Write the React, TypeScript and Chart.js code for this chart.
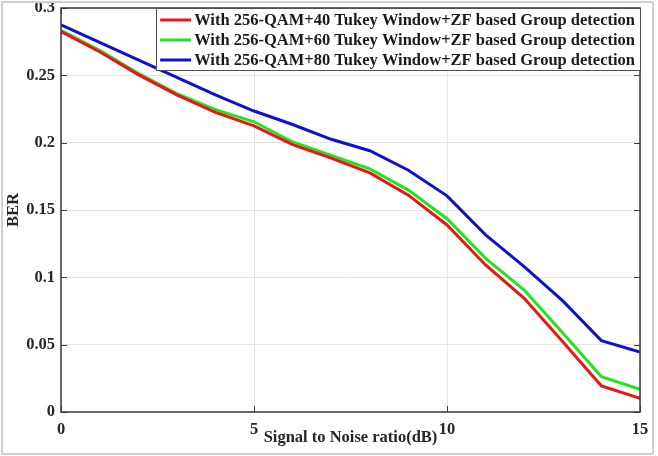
import React, { useEffect, useRef } from "react";
import { Chart, registerables } from "chart.js";

Chart.register(...registerables);

// SNR sweep (dB)
const snrDb = [0, 1, 2, 3, 4, 5, 6, 7, 8, 9, 10, 11, 12, 13, 14, 15];

// Bit error rate for each Tukey window length
const ber40 = [0.2825, 0.2675, 0.2505, 0.2355, 0.2225, 0.2125, 0.1985, 0.1885, 0.1775, 0.161, 0.1389, 0.1092, 0.0844, 0.0522, 0.0193, 0.0101];
const ber60 = [0.2835, 0.2685, 0.2515, 0.2365, 0.2245, 0.2155, 0.2005, 0.1905, 0.1805, 0.1648, 0.1435, 0.1141, 0.0906, 0.0587, 0.0262, 0.0168];
const ber80 = [0.2875, 0.2745, 0.2615, 0.2485, 0.2355, 0.2235, 0.2135, 0.2025, 0.194, 0.1795, 0.1605, 0.1315, 0.108, 0.0825, 0.053, 0.0445];

const seriesLabels = [
  "With 256-QAM+40 Tukey Window+ZF based Group detection",
  "With 256-QAM+60 Tukey Window+ZF based Group detection",
  "With 256-QAM+80 Tukey Window+ZF based Group detection",
];
const seriesColors = ["#ee1414", "#1ee61e", "#1010d2"];

const xAxisTitle = "Signal to Noise ratio(dB)";
const yAxisTitle = "BER";

const FONT = "'Liberation Serif', 'Times New Roman', serif";
const FONT_SIZE = 16.5;

// Box around the axes, inward tick marks and the boxed legend in the upper right
const axesDecor = {
  id: "axesDecor",
  afterDatasetsDraw(chart: any) {
    const { ctx, chartArea: a, scales } = chart;
    ctx.save();

    // inward tick marks on all four sides
    ctx.strokeStyle = "#404040";
    ctx.lineWidth = 1;
    ctx.beginPath();
    const tl = 6;
    scales.y.ticks.forEach((t: any) => {
      const y = Math.round(scales.y.getPixelForValue(t.value)) + 0.5;
      ctx.moveTo(a.left, y);
      ctx.lineTo(a.left + tl, y);
      ctx.moveTo(a.right, y);
      ctx.lineTo(a.right - tl, y);
    });
    scales.x.ticks.forEach((t: any) => {
      const x = Math.round(scales.x.getPixelForValue(t.value)) + 0.5;
      ctx.moveTo(x, a.bottom);
      ctx.lineTo(x, a.bottom - tl);
      ctx.moveTo(x, a.top);
      ctx.lineTo(x, a.top + tl);
    });
    ctx.stroke();

    // axes box
    ctx.strokeStyle = "#3a3a3a";
    ctx.lineWidth = 1.5;
    ctx.strokeRect(a.left, a.top, a.right - a.left, a.bottom - a.top);

    // legend
    ctx.font = `bold ${FONT_SIZE}px ${FONT}`;
    const ds = chart.data.datasets;
    let textW = 0;
    ds.forEach((d: any) => {
      textW = Math.max(textW, ctx.measureText(d.label).width);
    });
    const padL = 4;
    const lineLen = 31;
    const gap = 3;
    const padR = 5;
    const rowH = 20;
    const boxW = padL + lineLen + gap + textW + padR;
    const boxH = ds.length * rowH + 2;
    const bx = a.right - boxW;
    const by = a.top;
    ctx.fillStyle = "#ffffff";
    ctx.fillRect(bx, by, boxW, boxH);
    ctx.strokeStyle = "#505050";
    ctx.lineWidth = 1;
    ctx.strokeRect(Math.round(bx) + 0.5, by + 0.5, Math.round(boxW), boxH);
    ctx.textBaseline = "middle";
    ctx.textAlign = "left";
    ds.forEach((d: any, i: number) => {
      const cy = by + 12 + i * rowH;
      ctx.strokeStyle = d.borderColor;
      ctx.lineWidth = 3;
      ctx.beginPath();
      ctx.moveTo(bx + padL, cy);
      ctx.lineTo(bx + padL + lineLen, cy);
      ctx.stroke();
      ctx.fillStyle = "#1a1a1a";
      ctx.fillText(d.label, bx + padL + lineLen + gap, cy + 1);
    });

    ctx.restore();
  },
};

export default function App() {
  const canvasRef = useRef<HTMLCanvasElement | null>(null);

  useEffect(() => {
    const canvas = canvasRef.current;
    if (!canvas) return;
    const series = [ber40, ber60, ber80];
    const chart = new Chart(canvas, {
      type: "line",
      data: {
        datasets: series.map((vals, i) => ({
          label: seriesLabels[i],
          data: snrDb.map((x, j) => ({ x, y: vals[j] })),
          borderColor: seriesColors[i],
          backgroundColor: seriesColors[i],
          borderWidth: 3,
          pointRadius: 0,
          tension: 0,
          fill: false,
        })),
      },
      options: {
        responsive: false,
        animation: false,
        layout: { padding: { top: 8, right: 18, left: 0, bottom: 0 } },
        plugins: {
          legend: { display: false },
          tooltip: { enabled: false },
        },
        scales: {
          x: {
            type: "linear",
            min: 0,
            max: 15,
            afterFit: (s: any) => {
              s.height = 44;
              s.paddingLeft = 0;
              s.paddingRight = 0;
            },
            ticks: {
              stepSize: 5,
              padding: 8,
              color: "#262626",
              font: { family: FONT, size: FONT_SIZE, weight: "bold" },
              callback: (v: any) => String(v),
            },
            grid: { color: "#e4e4e4", lineWidth: 1, drawTicks: false },
            border: { display: false },
            title: {
              display: true,
              text: xAxisTitle,
              color: "#262626",
              font: { family: FONT, size: FONT_SIZE, weight: "bold" },
              padding: { top: 0, bottom: 8 },
            },
          },
          y: {
            type: "linear",
            min: 0,
            max: 0.3,
            afterFit: (s: any) => {
              s.width = 61;
              s.paddingTop = 0;
              s.paddingBottom = 0;
            },
            ticks: {
              stepSize: 0.05,
              padding: 6,
              color: "#262626",
              font: { family: FONT, size: FONT_SIZE, weight: "bold" },
              callback: (v: any) => String(Number(Number(v).toFixed(2))),
            },
            grid: { color: "#e4e4e4", lineWidth: 1, drawTicks: false },
            border: { display: false },
            title: {
              display: true,
              text: yAxisTitle,
              color: "#262626",
              font: { family: FONT, size: FONT_SIZE, weight: "bold" },
              padding: { top: 4, bottom: 0 },
            },
          },
        },
      },
      plugins: [axesDecor],
    });
    return () => chart.destroy();
  }, []);

  return (
    <div
      style={{
        position: "fixed",
        left: 0,
        top: 0,
        width: 658,
        height: 456,
        background: "#ffffff",
      }}
    >
      <canvas ref={canvasRef} width={658} height={456} style={{ display: "block" }} />
      <div
        style={{
          position: "absolute",
          left: 1,
          top: 1,
          width: 653,
          height: 454,
          boxSizing: "border-box",
          border: "2px solid #cfcfcf",
          pointerEvents: "none",
        }}
      />
    </div>
  );
}
